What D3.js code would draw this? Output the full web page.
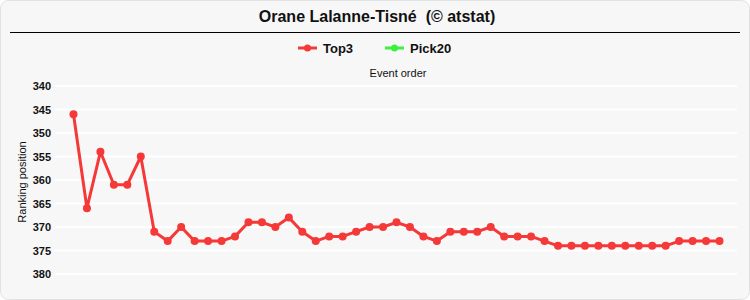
<!DOCTYPE html>
<html>
<head>
<meta charset="utf-8">
<script src="https://cdn.jsdelivr.net/npm/d3@7"></script>
<style>
  body { margin: 0; background: #fff; }
  svg { display: block; font-family: "Liberation Sans", Arial, sans-serif; }
</style>
</head>
<body>
<svg id="chart" width="750" height="300"></svg>
<script>
// data
var title = "Orane Lalanne-Tisné  (© atstat)";
var seriesNames = ["Top3", "Pick20"];
var seriesColors = ["#f53838", "#3ef03e"];
var top3 = [346, 366, 354, 361, 361, 355, 371, 373, 370, 373, 373, 373, 372, 369, 369, 370, 368,
            371, 373, 372, 372, 371, 370, 370, 369, 370, 372, 373, 371, 371, 371, 370, 372, 372,
            372, 373, 374, 374, 374, 374, 374, 374, 374, 374, 374, 373, 373, 373, 373];
var pick20 = [];
var yTicks = [340, 345, 350, 355, 360, 365, 370, 375, 380];

var width = 750, height = 300;
var svg = d3.select("#chart");

// panel background
svg.append("rect")
  .attr("x", 0.5).attr("y", 0.5)
  .attr("width", width - 1).attr("height", height - 1)
  .attr("rx", 8)
  .attr("fill", "#f7f7f7")
  .attr("stroke", "#e2e2e2");

svg.append("text")
  .attr("x", 377).attr("y", 22)
  .attr("text-anchor", "middle")
  .attr("font-size", 16).attr("font-weight", "bold")
  .attr("fill", "#111")
  .style("white-space", "pre")
  .text(title);

svg.append("line")
  .attr("x1", 10).attr("x2", 740)
  .attr("y1", 32.5).attr("y2", 32.5)
  .attr("stroke", "#000").attr("stroke-width", 1);

// legend
var legendX = [298, 385];
seriesNames.forEach(function(name, i) {
  var g = svg.append("g").attr("transform", "translate(" + legendX[i] + ",48)");
  g.append("line").attr("x1", 0).attr("x2", 19)
    .attr("stroke", seriesColors[i]).attr("stroke-width", 3);
  g.append("circle").attr("cx", 9.5).attr("r", 3.5).attr("fill", seriesColors[i]);
  g.append("text").attr("x", 25).attr("y", 5)
    .attr("font-size", 13).attr("font-weight", "bold").attr("fill", "#111")
    .text(name);
});

svg.append("text")
  .attr("x", 398).attr("y", 77)
  .attr("text-anchor", "middle")
  .attr("font-size", 11).attr("fill", "#111")
  .text("Event order");

var x = d3.scalePoint()
  .domain(d3.range(top3.length))
  .range([56, 737])
  .padding(1.3);

var y = d3.scaleLinear()
  .domain([340, 380])
  .range([86, 274]);

// grid
svg.append("g")
  .selectAll("line")
  .data(yTicks)
  .join("line")
    .attr("x1", 55).attr("x2", 737)
    .attr("y1", d => y(d)).attr("y2", d => y(d))
    .attr("stroke", "#ffffff").attr("stroke-width", 2);

var yAxis = svg.append("g")
  .attr("transform", "translate(51,0)")
  .call(d3.axisLeft(y).tickValues(yTicks).tickSize(0).tickPadding(0));
yAxis.select(".domain").remove();
yAxis.selectAll("text")
  .attr("font-size", 11).attr("font-weight", "bold")
  .attr("font-family", "\"Liberation Sans\", Arial, sans-serif")
  .attr("fill", "#111");

svg.append("text")
  .attr("transform", "translate(26,182) rotate(-90)")
  .attr("text-anchor", "middle")
  .attr("font-size", 11).attr("fill", "#111")
  .text("Ranking position");

var line = d3.line()
  .x((d, i) => x(i))
  .y(d => y(d));

[top3, pick20].forEach(function(vals, s) {
  if (!vals.length) return;
  svg.append("path")
    .attr("d", line(vals))
    .attr("fill", "none")
    .attr("stroke", seriesColors[s])
    .attr("stroke-width", 3)
    .attr("stroke-linejoin", "round");
  svg.append("g")
    .selectAll("circle")
    .data(vals)
    .join("circle")
      .attr("cx", (d, i) => x(i))
      .attr("cy", d => y(d))
      .attr("r", 4)
      .attr("fill", seriesColors[s]);
});
</script>
</body>
</html>
